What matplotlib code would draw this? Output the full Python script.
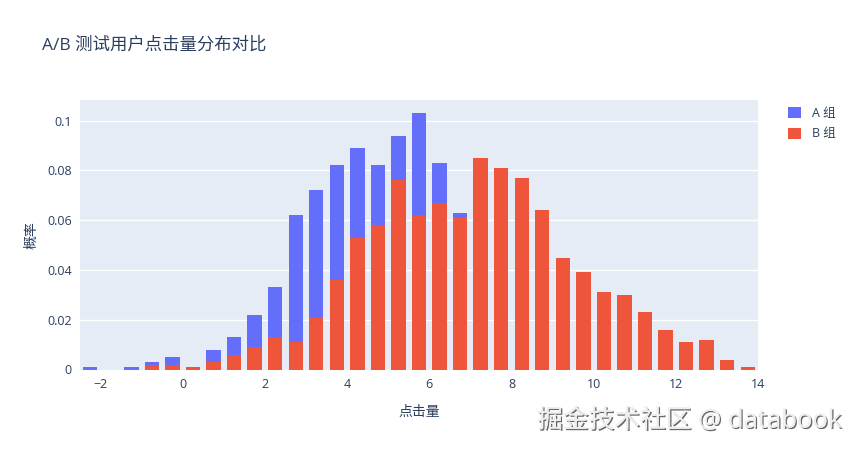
import matplotlib
matplotlib.use("Agg")
import matplotlib.pyplot as plt
import matplotlib.patheffects as pe
import numpy as np

plt.rcParams['font.family'] = ['Open Sans', 'Noto Sans CJK SC', 'DejaVu Sans']

# bin centres (width 0.5, from -2.5 to 14)
bin_centers = [-2.25, -1.75, -1.25, -0.75, -0.25, 0.25, 0.75, 1.25, 1.75, 2.25,
               2.75, 3.25, 3.75, 4.25, 4.75, 5.25, 5.75, 6.25, 6.75, 7.25,
               7.75, 8.25, 8.75, 9.25, 9.75, 10.25, 10.75, 11.25, 11.75, 12.25,
               12.75, 13.25, 13.75]
group_a = [0.001, 0.0, 0.001, 0.003, 0.005, 0.0, 0.008, 0.013, 0.022, 0.033,
           0.062, 0.072, 0.082, 0.089, 0.082, 0.094, 0.103, 0.083, 0.063, 0.055,
           0.045, 0.034, 0.022, 0.013, 0.008, 0.004, 0.002, 0.001, 0.0, 0.0,
           0.0, 0.0, 0.0]
group_b = [0.0, 0.0, 0.0, 0.002, 0.002, 0.001, 0.003, 0.006, 0.009, 0.013,
           0.011, 0.021, 0.036, 0.053, 0.058, 0.076, 0.062, 0.067, 0.061, 0.085,
           0.081, 0.077, 0.064, 0.045, 0.039, 0.031, 0.030, 0.023, 0.016, 0.011,
           0.012, 0.004, 0.001]
series_names = ['A 组', 'B 组']
title = 'A/B 测试用户点击量分布对比'
x_title = '点击量'
y_title = '概率'

text_color = '#2a3f5f'
fig = plt.figure(figsize=(8.57, 4.5), dpi=100)
ax = fig.add_axes([80/857, 1-369.5/450, (758-80)/857, (369.5-100)/450])
ax.set_facecolor('#E5ECF6')

w = 0.5 * 0.7
ax.bar(bin_centers, group_a, width=w, color='#636EFA', label=series_names[0], zorder=2)
ax.bar(bin_centers, group_b, width=w, color='#EF553B', label=series_names[1], zorder=3)

ax.set_xlim(-2.5, 14)
ax.set_ylim(0, 0.1083)
ax.set_yticks([0, 0.02, 0.04, 0.06, 0.08, 0.1])
ax.set_yticklabels(['0', '0.02', '0.04', '0.06', '0.08', '0.1'])
ax.set_xticks(range(-2, 15, 2))
ax.grid(axis='y', color='white', linewidth=1, zorder=1)
ax.set_axisbelow(True)
for s in ax.spines.values():
    s.set_visible(False)
ax.tick_params(axis='both', length=0, labelsize=9, labelcolor=text_color, pad=6)

ax.set_xlabel(x_title, fontsize=10, color=text_color, labelpad=10)
ax.set_ylabel(y_title, fontsize=10, color=text_color, labelpad=5)

fig.text(42/857, 1-45/450, title, fontsize=12.5, color=text_color, va='center', ha='left')

leg = fig.legend(loc='upper left', bbox_to_anchor=(783/857, 1-102/450), frameon=False,
                 fontsize=9, handlelength=1.0, handleheight=1.0, handletextpad=0.9,
                 labelspacing=0.6, borderaxespad=0)
for t in leg.get_texts():
    t.set_color(text_color)

fig.text(842/857, 1-421/450, '掘金技术社区 @ databook', fontsize=18.5, color='#eeeeee',
         ha='right', va='center',
         path_effects=[pe.withSimplePatchShadow(offset=(1, -1), shadow_rgbFace='#444444', alpha=0.8),
                       pe.Normal()])

fig.savefig('out.png', dpi=100, facecolor='white')
